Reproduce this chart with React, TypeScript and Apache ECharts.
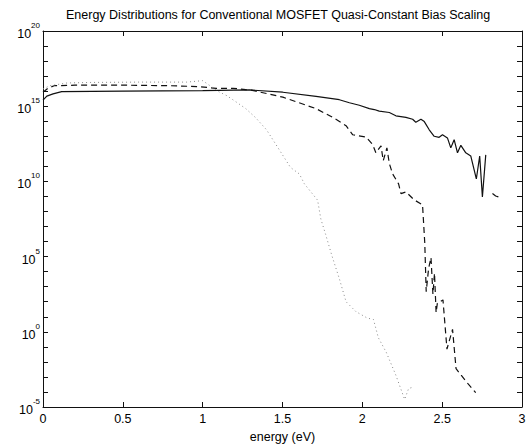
import React, { useEffect, useRef } from "react";
import * as echarts from "echarts";

const titleText = "Energy Distributions for Conventional MOSFET Quasi-Constant Bias Scaling";
const xName = "energy (eV)";

// Solid curve
const solidE = [0, 0.024, 0.063, 0.117, 0.5, 1.0, 1.294, 1.502, 1.71, 1.856, 1.919, 1.981, 2.044, 2.075, 2.106, 2.169, 2.21, 2.273, 2.315, 2.335, 2.367, 2.388, 2.419, 2.45, 2.481, 2.502, 2.533, 2.554, 2.575, 2.596, 2.617, 2.648, 2.679, 2.714, 2.735, 2.752, 2.773, 2.79, 2.815, 2.835, 2.852];
const solidV = [2.5e15, 4.7e15, 6.6e15, 9.3e15, 1.0e16, 1.07e16, 1.2e16, 8.5e15, 4.5e15, 2.7e15, 1.7e15, 1.15e15, 6.9e14, 6.0e14, 4.7e14, 3.8e14, 2.3e14, 1.8e14, 1.35e14, 8.5e13, 1.35e14, 9.5e13, 2.7e13, 1.0e13, 8.5e12, 1.26e13, 7.8e12, 1.7e12, 5.9e12, 7.9e11, 2.5e12, 7.9e11, 4.9e11, 1.45e10, 4.9e11, 9.3e8, 5.8e11, null, 1.55e9, 1.07e9, 9.3e8];

// Dashed curve
const dashedE = [0, 0.03, 0.07, 0.2, 0.5, 0.8, 0.98, 1.085, 1.19, 1.27, 1.3, 1.502, 1.71, 1.815, 1.898, 1.94, 2.023, 2.065, 2.085, 2.117, 2.131, 2.154, 2.169, 2.19, 2.227, 2.242, 2.273, 2.325, 2.377, 2.391, 2.4, 2.415, 2.43, 2.442, 2.452, 2.462, 2.47, 2.505, 2.53, 2.565, 2.587, 2.619, 2.66, 2.71];
const dashedV = [8.5e15, 1.55e16, 2.3e16, 2.5e16, 2.5e16, 2.3e16, 2.0e16, 1.55e16, 1.55e16, 1.26e16, 1.2e16, 4.0e15, 6.9e14, 1.8e14, 5.1e13, 1.26e13, 8.9e12, 2.8e12, 7.9e11, 2.3e12, 2.4e11, 1.7e12, 1.55e11, 3.1e10, 6.9e9, 1.55e9, 2.0e9, 5.9e8, 2.8e8, 8.3e5, 4.6e2, 1.6e4, 8.7e4, 3.2e2, 7.9e3, 19, 80, 132, 0.071, 1.45, 3.5e-3, 1.3e-3, 3.7e-4, 9.1e-5];

// Dotted curve
const dottedE = [0, 0.043, 0.15, 0.3, 0.6, 0.9, 1.0, 1.1, 1.15, 1.21, 1.27, 1.33, 1.4, 1.48, 1.55, 1.606, 1.637, 1.72, 1.74, 1.77, 1.81, 1.856, 1.898, 1.96, 2.03, 2.07, 2.1, 2.15, 2.21, 2.265, 2.29, 2.325];
const dottedV = [1.4e16, 2.3e16, 3.5e16, 3.8e16, 4.0e16, 4.0e16, 5.0e16, 9.3e15, 5.1e15, 1.9e15, 6.9e14, 1.8e14, 2.7e13, 1.26e12, 8.5e10, 3.1e10, 6.9e9, 5.6e8, 3.2e7, 3.0e6, 1.1e5, 3.4e3, 100, 22, 8.3, 6.5, 0.41, 0.043, 1.3e-3, 3.2e-5, 1.7e-4, 2.2e-4];

const xTicks = [0, 3, 0.5];
const yRange = [1e-5, 1e20];

const FONT = "Liberation Sans";

function pairs(xs: number[], ys: (number | null)[]) {
  return xs.map((x, i) => [x, ys[i]]);
}

export default function App() {
  const ref = useRef<HTMLDivElement>(null);
  useEffect(() => {
    if (!ref.current) return;
    const chart = echarts.init(ref.current, undefined, { renderer: "svg" });
    const axisCommon = {
      axisLine: { show: true, onZero: false, lineStyle: { color: "#111", width: 1 } },
      axisTick: { show: true, inside: true, length: 5, lineStyle: { color: "#111" } },
      splitLine: { show: false },
      minorTick: { show: false },
    };
    const yFormatter = (v: number) => {
      const e = Math.round(Math.log10(v));
      return e % 5 === 0 ? `{b|10}{s|${e}}` : "";
    };
    chart.setOption({
      animation: false,
      backgroundColor: "#fff",
      title: {
        text: titleText,
        left: 61,
        top: 3,
        textStyle: { fontFamily: FONT, fontSize: 12.5, fontWeight: "normal", color: "#000" },
      },
      grid: { left: 43, right: 9, top: 31, bottom: 35, containLabel: false },
      xAxis: [
        {
          type: "value",
          min: xTicks[0],
          max: xTicks[1],
          interval: xTicks[2],
          name: xName,
          nameLocation: "middle",
          nameGap: 23,
          nameTextStyle: { fontFamily: FONT, fontSize: 12.5, color: "#000" },
          axisLabel: { fontFamily: FONT, fontSize: 12.5, color: "#000", margin: 5 },
          ...axisCommon,
        },
        {
          type: "value",
          position: "top",
          min: xTicks[0],
          max: xTicks[1],
          interval: xTicks[2],
          axisLabel: { show: false },
          ...axisCommon,
        },
      ],
      yAxis: [
        {
          type: "log",
          logBase: 10,
          min: yRange[0],
          max: yRange[1],
          interval: 1,
          axisLabel: {
            formatter: yFormatter,
            margin: 3,
            rich: {
              b: { fontFamily: FONT, fontSize: 12.5, color: "#000", padding: [6, 0, 0, 0] },
              s: { fontFamily: FONT, fontSize: 8, color: "#000", verticalAlign: "top" },
            },
          },
          ...axisCommon,
        },
        {
          type: "log",
          logBase: 10,
          position: "right",
          min: yRange[0],
          max: yRange[1],
          interval: 1,
          axisLabel: { show: false },
          ...axisCommon,
        },
      ],
      series: [
        {
          type: "line",
          data: pairs(solidE, solidV),
          showSymbol: false,
          connectNulls: false,
          lineStyle: { color: "#111", width: 1.2, type: "solid" },
        },
        {
          type: "line",
          data: pairs(dashedE, dashedV),
          showSymbol: false,
          lineStyle: { color: "#111", width: 1.2, type: [6, 4] },
        },
        {
          type: "line",
          data: pairs(dottedE, dottedV),
          showSymbol: false,
          lineStyle: { color: "#888", width: 1, type: [1, 3] },
        },
      ],
    });
    return () => chart.dispose();
  }, []);
  return (
    <div
      ref={ref}
      style={{ position: "absolute", left: 0, top: 0, width: 531, height: 448, background: "#fff" }}
    />
  );
}
